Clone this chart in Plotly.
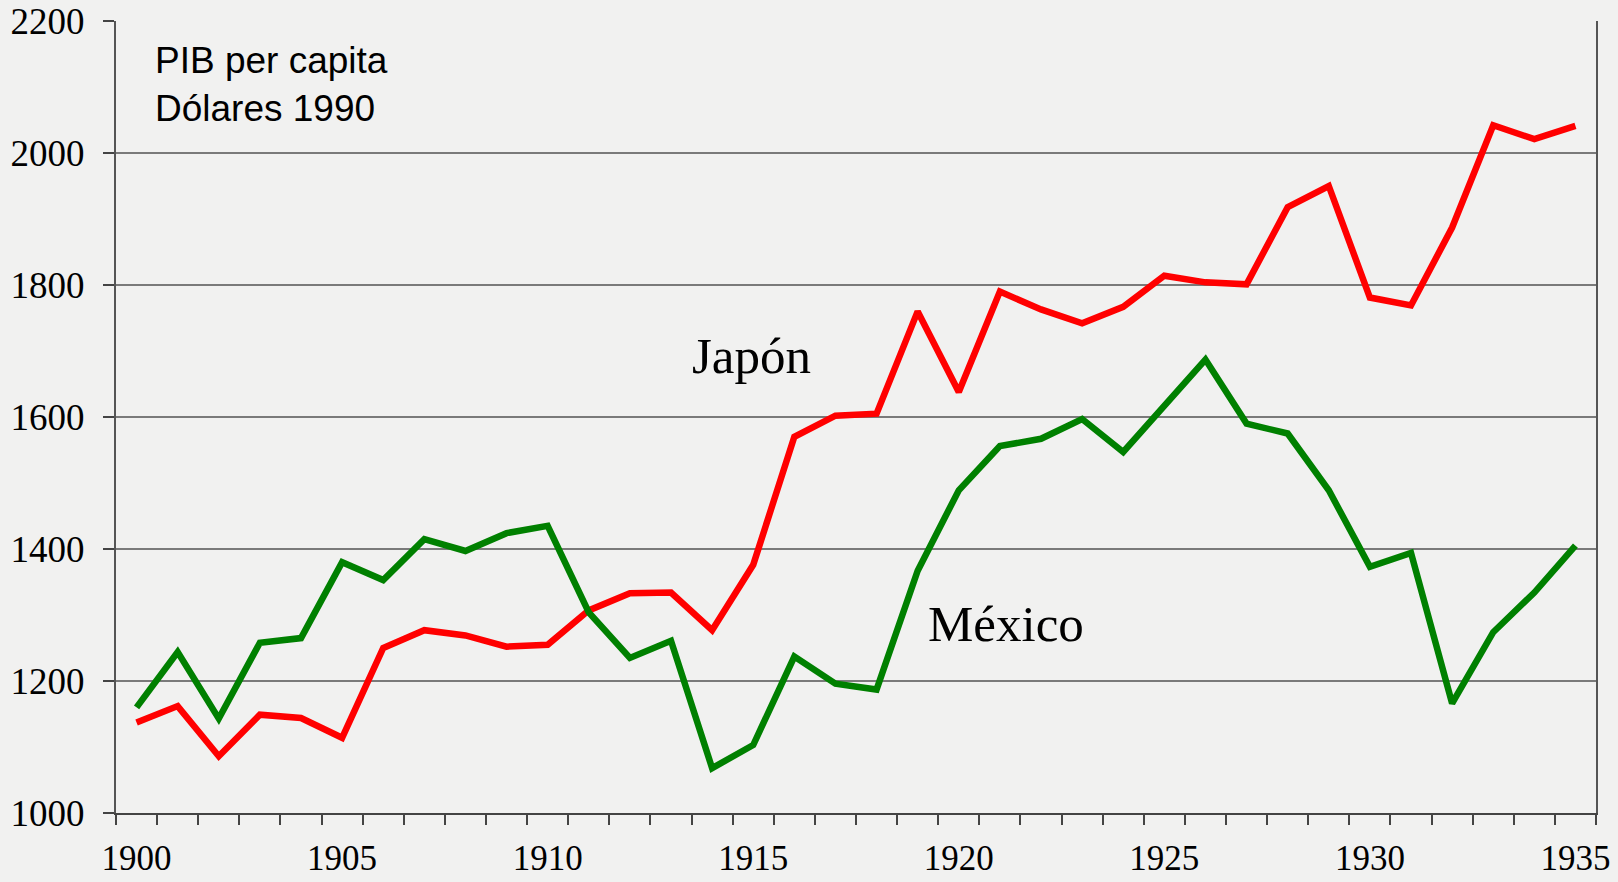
import plotly.graph_objects as go

years = list(range(1900, 1936))

japon = [1137, 1162, 1086, 1149, 1144, 1114, 1250, 1277, 1269, 1252,
         1255, 1307, 1333, 1334, 1277, 1376, 1570, 1602, 1605, 1760,
         1638, 1790, 1763, 1742, 1767, 1814, 1804, 1801, 1918, 1950,
         1781, 1769, 1887, 2042, 2021, 2041]

mexico = [1160, 1244, 1143, 1258, 1265, 1380, 1353, 1415, 1397, 1424,
          1435, 1304, 1235, 1261, 1068, 1103, 1237, 1196, 1187, 1367,
          1489, 1556, 1567, 1597, 1547, 1618, 1687, 1590, 1575, 1489,
          1373, 1394, 1166, 1274, 1334, 1405]

x_ticks = [1900, 1905, 1910, 1915, 1920, 1925, 1930, 1935]
y_ticks = [1000, 1200, 1400, 1600, 1800, 2000, 2200]

label_japon = dict(text="Japón", x=1914.95, y=1692)
label_mexico = dict(text="México", x=1921.15, y=1287)
title_text = "PIB per capita<br>Dólares 1990"

BG = "#f1f1f0"
SERIF = "Liberation Serif, Times New Roman, serif"
SANS = "Liberation Sans, Arial, sans-serif"

fig = go.Figure()
fig.add_trace(go.Scatter(x=years, y=japon, mode="lines", name="Japón",
                         line=dict(color="#ff0000", width=6.5),
                         showlegend=False, hoverinfo="x+y"))
fig.add_trace(go.Scatter(x=years, y=mexico, mode="lines", name="México",
                         line=dict(color="#008000", width=6.5),
                         showlegend=False, hoverinfo="x+y"))

for lab in (label_japon, label_mexico):
    fig.add_annotation(text=lab["text"], x=lab["x"], y=lab["y"],
                       xref="x", yref="y", showarrow=False,
                       xanchor="center", yanchor="middle",
                       font=dict(family=SERIF, size=51, color="#000000"))

fig.add_annotation(text=title_text, xref="paper", yref="paper",
                   x=0.025, y=0.978, xanchor="left", yanchor="top",
                   align="left", showarrow=False,
                   font=dict(family=SANS, size=37, color="#000000"))

fig.update_layout(
    width=1618, height=882,
    margin=dict(l=116, r=22, t=21, b=69, autoexpand=False),
    paper_bgcolor=BG, plot_bgcolor=BG,
    showlegend=False,
)

fig.update_xaxes(
    range=[1899.5, 1935.5], automargin=False,
    tickmode="array", tickvals=x_ticks, ticktext=[str(v) for v in x_ticks],
    ticks="", showgrid=False, zeroline=False,
    showline=True, linecolor="#444444", linewidth=2,
    tickfont=dict(family=SERIF, size=35, color="#000000"),
    ticklabelstandoff=13,
    minor=dict(tickmode="linear", tick0=1899.5, dtick=1, ticks="outside",
               ticklen=10, tickwidth=1.5, tickcolor="#444444", showgrid=False),
)

fig.update_yaxes(
    range=[1000, 2200], automargin=False,
    tickmode="array", tickvals=y_ticks,
    ticks="outside", ticklen=11, tickwidth=1.5, tickcolor="#444444",
    showgrid=True, gridcolor="#7a7a7a", gridwidth=1.5,
    zeroline=False,
    showline=True, linecolor="#555555", linewidth=2, mirror=True,
    tickfont=dict(family=SERIF, size=37, color="#000000"),
    ticklabelstandoff=11,
)

fig.write_html(
    "out.html",
    config={"displayModeBar": False},
    post_script=(
        "document.body.style.margin='0';"
        "document.body.style.overflow='hidden';"
        "document.body.style.background='" + BG + "';"
    ),
)
